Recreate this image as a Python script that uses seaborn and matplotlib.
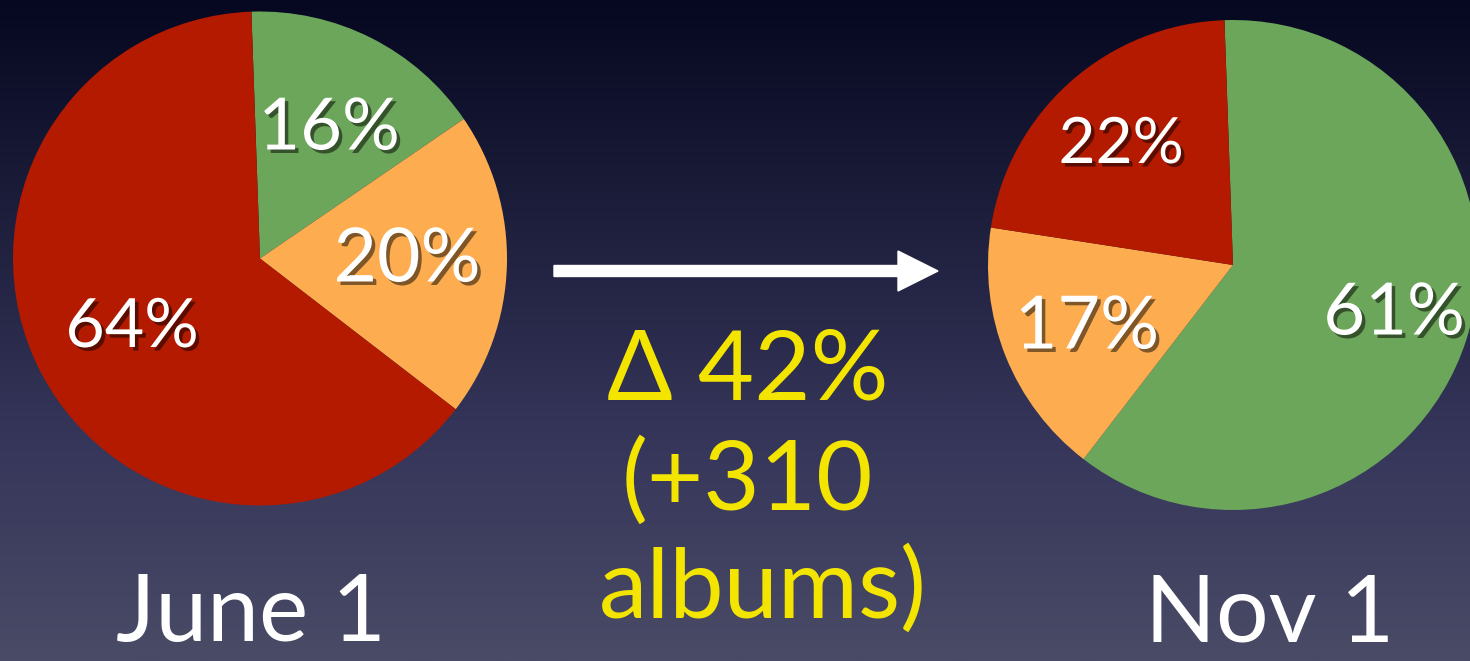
import numpy as np
import matplotlib
matplotlib.use("Agg")
import matplotlib.pyplot as plt
import matplotlib.patheffects as pe
from matplotlib.colors import LinearSegmentedColormap
import seaborn as sns

# --- data ---------------------------------------------------------------
june_labels = ["good", "partial", "bad"]
june_values = [16, 20, 64]
nov_labels = ["good", "partial", "bad"]
nov_values = [61, 17, 22]
date_labels = ["June 1", "Nov 1"]
change_lines = ["\u0394 42%", "(+310", "albums)"]

palette = sns.color_palette(["#6ca65a", "#fdad50", "#b41a00"])

sns.set_theme(style="white")
plt.rcParams["font.family"] = ["Lato", "DejaVu Sans"]

W, H = 1470, 661
fig = plt.figure(figsize=(W / 100, H / 100), dpi=100)
ax = fig.add_axes([0, 0, 1, 1])

# vertical background gradient, dark navy at the top to slate at the bottom
bg = LinearSegmentedColormap.from_list(
    "bg", ["#4a4b66", "#35365a", "#1e1f3c", "#060720"])
grad = np.linspace(0, 1, 512).reshape(-1, 1)
ax.imshow(grad, extent=(0, W, 0, H), origin="lower", cmap=bg,
          aspect="auto", zorder=0)

shadow = [pe.withSimplePatchShadow(offset=(2.5, -2.5), shadow_rgbFace="black",
                                   alpha=0.5)]

def draw_pie(values, center, radius, label_pos, label_sizes):
    wedges, _ = ax.pie(values, colors=palette, startangle=92,
                       counterclock=False, center=center, radius=radius,
                       frame=True, wedgeprops=dict(linewidth=0))
    for w in wedges:
        w.set_zorder(2)
    for v, (x, y), fs in zip(values, label_pos, label_sizes):
        ax.text(x, H - y, f"{v}%", color="white", fontsize=fs,
                ha="center", va="center", zorder=5, path_effects=shadow)

draw_pie(june_values, (260, H - 258.5), 247,
         [(329, 129), (407, 260), (132, 328)], [52, 54, 49])
draw_pie(nov_values, (1233, H - 265), 245,
         [(1394, 314), (1087, 328), (1121, 145)], [52, 53, 46])

# arrow between the two pies
ax.arrow(554, H - 271, 384, 0, width=11, head_width=40, head_length=40,
         length_includes_head=True, color="white", zorder=4)

# yellow change annotation
for line, (x, base) in zip(change_lines, [(748, 400), (747, 510), (763, 618)]):
    ax.text(x, H - base, line, color="#f4e500", fontsize=70,
            ha="center", va="baseline", zorder=5)

# date captions under each pie
for lab, x in zip(date_labels, [251, 1270]):
    ax.text(x, H - 641, lab, color="white", fontsize=67,
            ha="center", va="baseline", zorder=5)

ax.set_xlim(0, W)
ax.set_ylim(0, H)
ax.set_aspect("auto")
ax.axis("off")

fig.savefig("out.png", dpi=100)
